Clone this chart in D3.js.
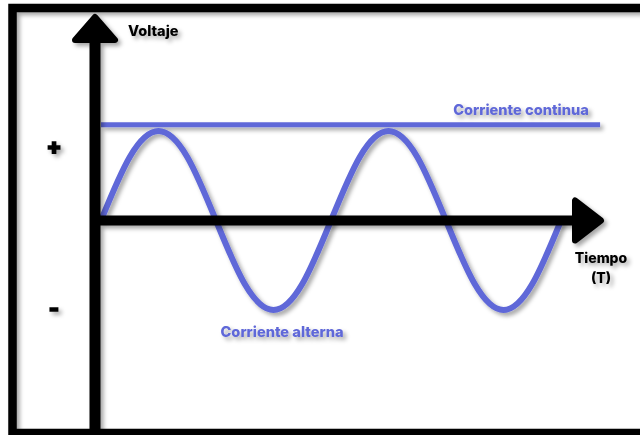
<!DOCTYPE html>
<html>
<head>
<meta charset="utf-8">
<script src="https://cdn.jsdelivr.net/npm/d3@7"></script>
<style>
  body { margin: 0; background: #fff; }
  text { font-family: Inter, "Open Sans", sans-serif; font-weight: 800; }
</style>
</head>
<body>
<div id="chart"></div>
<script>
// time in quarter periods, voltage normalised to the peak
const acTime = [0, 0.5, 1, 1.5, 2, 2.5, 3, 3.5, 4, 4.5, 5, 5.5, 6, 6.5, 7, 7.5, 8];
const acVoltage = [0, 0.71, 1, 0.71, 0, -0.71, -1, -0.71, 0, 0.71, 1, 0.71, 0, -0.71, -1, -0.71, 0];
const dcTime = [0, 8.68];
const dcVoltage = [1.07, 1.07];
const signLabels = [{ text: "+", v: 0.83 }, { text: "-", v: -0.98 }];

const W = 640, H = 435;
const blue = "#5f67d8";

const svg = d3.select("#chart").append("svg")
    .attr("width", W)
    .attr("height", H);

const defs = svg.append("defs");
defs.append("filter").attr("id", "shadow")
    .attr("x", "-20%").attr("y", "-20%").attr("width", "140%").attr("height", "140%")
    .append("feDropShadow")
    .attr("dx", 3).attr("dy", 3)
    .attr("stdDeviation", 2.2)
    .attr("flood-color", "#000")
    .attr("flood-opacity", 0.35);

// frame
svg.append("rect")
    .attr("x", 12.5).attr("y", 8)
    .attr("width", 660).attr("height", 425)
    .attr("fill", "none")
    .attr("stroke", "#000")
    .attr("stroke-width", 8.5)
    .attr("filter", "url(#shadow)");

const x = d3.scaleLinear().domain([0, 8]).range([101, 561]);
const y = d3.scaleLinear().domain([-1, 1]).range([310, 131]);

const g = svg.append("g").attr("filter", "url(#shadow)");

// DC line
const line = d3.line().x(d => x(d[0])).y(d => y(d[1]));
g.append("path")
    .datum(d3.zip(dcTime, dcVoltage))
    .attr("d", line)
    .attr("fill", "none")
    .attr("stroke", blue)
    .attr("stroke-width", 5);

// AC wave
g.append("path")
    .datum(d3.zip(acTime, acVoltage))
    .attr("d", line.curve(d3.curveNatural))
    .attr("fill", "none")
    .attr("stroke", blue)
    .attr("stroke-width", 6);

// axes
const axisX = x(0) - 6;
const axisY = y(0);
const axes = svg.append("g").attr("filter", "url(#shadow)");

axes.append("line")
    .attr("x1", axisX).attr("x2", 585)
    .attr("y1", axisY).attr("y2", axisY)
    .attr("stroke", "#000").attr("stroke-width", 10);
axes.append("line")
    .attr("x1", axisX).attr("x2", axisX)
    .attr("y1", H + 5).attr("y2", 35)
    .attr("stroke", "#000").attr("stroke-width", 11);

// arrow heads
axes.append("path")
    .attr("d", `M${axisX},17 L${axisX + 20},40 L${axisX - 20},40 Z`)
    .attr("fill", "#000").attr("stroke", "#000")
    .attr("stroke-width", 6).attr("stroke-linejoin", "round");
axes.append("path")
    .attr("d", `M601,${axisY} L575,${axisY - 20} L575,${axisY + 20} Z`)
    .attr("fill", "#000").attr("stroke", "#000")
    .attr("stroke-width", 6).attr("stroke-linejoin", "round");

// labels
const labels = svg.append("g").attr("filter", "url(#shadow)");
labels.append("text")
    .attr("x", 128).attr("y", 36)
    .attr("font-size", 14.5)
    .attr("fill", "#000")
    .text("Voltaje");

labels.selectAll(".sign")
    .data(signLabels)
    .join("text")
    .attr("class", "sign")
    .attr("x", 54).attr("y", d => y(d.v))
    .attr("text-anchor", "middle")
    .attr("dominant-baseline", "central")
    .attr("font-size", 22)
    .attr("font-weight", 900)
    .attr("fill", "#000")
    .attr("stroke", "#000")
    .attr("stroke-width", 1.6)
    .text(d => d.text);

labels.append("text")
    .attr("x", 521).attr("y", 115)
    .attr("text-anchor", "middle")
    .attr("font-size", 14.6)
    .attr("fill", blue)
    .text("Corriente continua");

labels.append("text")
    .attr("x", 282).attr("y", 337)
    .attr("text-anchor", "middle")
    .attr("font-size", 14.6)
    .attr("fill", blue)
    .text("Corriente alterna");

labels.append("text")
    .attr("x", 601).attr("y", 263)
    .attr("text-anchor", "middle")
    .attr("font-size", 14)
    .attr("fill", "#000")
    .text("Tiempo");
labels.append("text")
    .attr("x", 601).attr("y", 283)
    .attr("text-anchor", "middle")
    .attr("font-size", 14)
    .attr("fill", "#000")
    .text("(T)");
</script>
</body>
</html>
